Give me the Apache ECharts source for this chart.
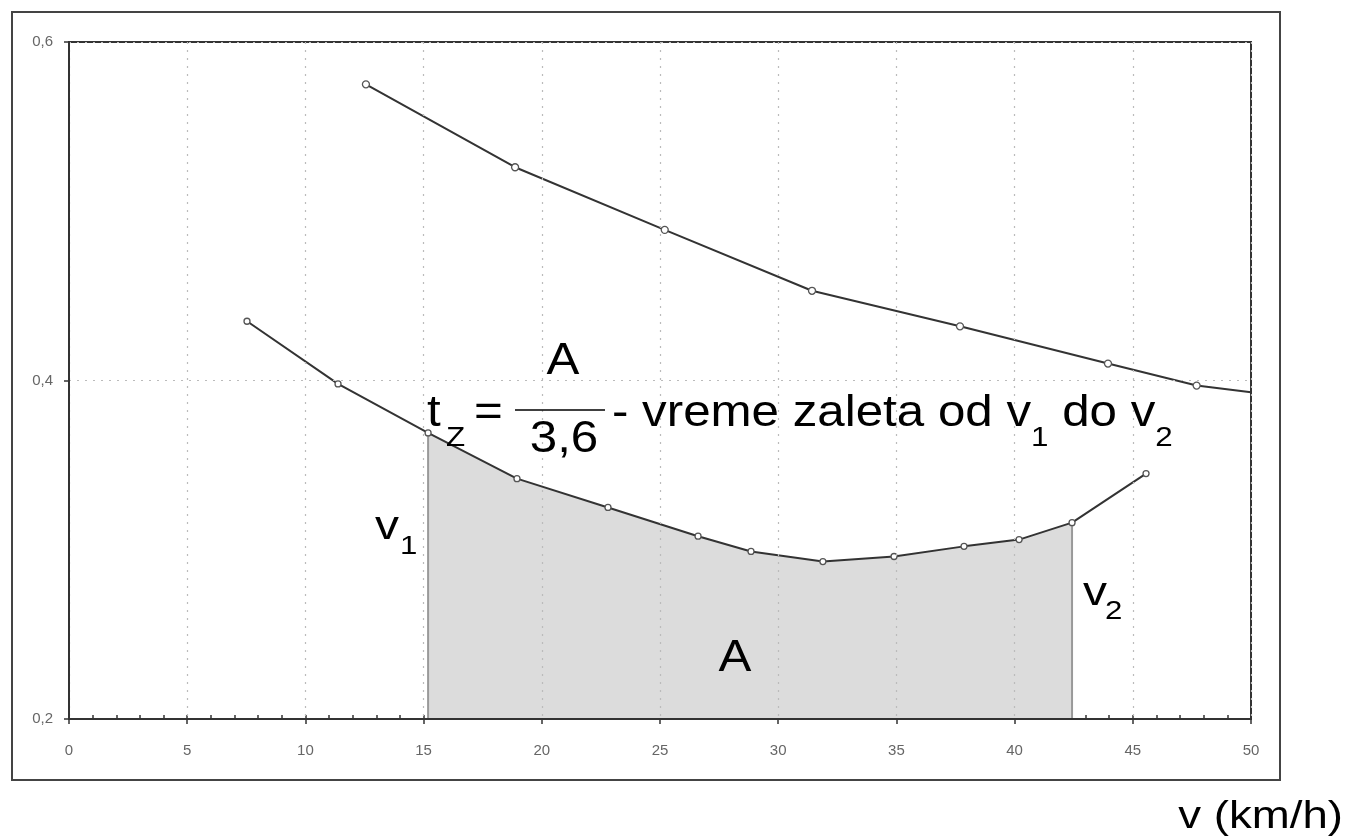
<!DOCTYPE html>
<html><head><meta charset="utf-8">
<script src="https://cdn.jsdelivr.net/npm/echarts@6/dist/echarts.min.js"></script>
<style>html,body{margin:0;padding:0;background:#fff}#c{width:1348px;height:839px}</style>
</head><body><div id="c"></div>
<script>
// Upper curve (v in km/h, value)
const upperX = [12.56, 18.87, 25.2, 31.43, 37.69, 43.95, 47.7, 50];
const upperY = [0.575, 0.526, 0.489, 0.453, 0.432, 0.410, 0.397, 0.393];
// Lower curve
const lowerX = [7.53, 11.38, 15.19, 18.95, 22.80, 26.61, 28.85, 31.89, 34.90, 37.86, 40.19, 42.43, 45.56];
const lowerY = [0.435, 0.398, 0.369, 0.342, 0.325, 0.308, 0.299, 0.293, 0.296, 0.302, 0.306, 0.316, 0.345];
// Integration bounds
const v1 = 15.19, v2 = 42.43;
const yMin = 0.2, yMax = 0.6;

const upperData = upperX.map((x, i) => i === upperX.length - 1 ? { value: [x, upperY[i]], symbol: 'none' } : [x, upperY[i]]);
const lowerData = lowerX.map((x, i) => [x, lowerY[i]]);
const areaData = lowerX.map((x, i) => [x, lowerY[i]]).filter(p => p[0] >= v1 && p[0] <= v2);
const yAt = x => lowerY[lowerX.indexOf(x)];

const F = "'Liberation Sans', Arial, sans-serif";
function txt(t, x, y, size, align, sx) {
  return { type: 'text', x: x, y: y, scaleX: sx || 1.2, z: 100,
    style: { text: t, x: 0, y: 0, font: size + 'px ' + F, fill: '#000', align: align || 'left', verticalAlign: 'middle' } };
}
// sequential text with measured advance (for subscripts)
const mctx = document.createElement('canvas').getContext('2d');
function seq(parts, x0, sx) {
  const out = []; let x = x0;
  parts.forEach(p => {
    out.push(txt(p[0], x, p[2], p[1], 'left', sx));
    mctx.font = p[1] + 'px ' + F;
    x += mctx.measureText(p[0]).width * sx;
  });
  return out;
}
const M = 44, S = 28, SXF = 1.12, YM = 414, YS = 438;

const chart = echarts.init(document.getElementById('c'), null, { renderer: 'canvas' });
chart.setOption({
  animation: false,
  backgroundColor: '#fff',
  grid: { left: 69, right: 97, top: 42, bottom: 120, show: true, borderColor: '#333', borderWidth: 2, backgroundColor: 'transparent' },
  xAxis: [{
    type: 'value', min: 0, max: 50, interval: 5, z: 5,
    axisLine: { show: true, onZero: false, lineStyle: { color: '#333', width: 2 } },
    axisTick: { show: true, length: 5, lineStyle: { color: '#333', width: 1.5 } },
    axisLabel: { color: '#666', fontSize: 15, fontFamily: F, margin: 24 },
    splitLine: { show: true, lineStyle: { color: '#bbb', type: [2, 6], width: 1.2 } }
  }, {
    type: 'value', min: 0, max: 50, interval: 1, position: 'bottom', z: 0,
    axisLine: { show: false },
    axisTick: { show: true, inside: true, length: 4, lineStyle: { color: '#333', width: 1.5 } },
    axisLabel: { show: false },
    splitLine: { show: false }
  }],
  yAxis: {
    type: 'value', min: yMin, max: yMax, interval: 0.2, z: 5,
    axisLine: { show: true, lineStyle: { color: '#333', width: 2 } },
    axisTick: { show: true, length: 5, lineStyle: { color: '#333', width: 1.5 } },
    axisLabel: { color: '#666', fontSize: 15, fontFamily: F, margin: 16, formatter: v => v.toFixed(1).replace('.', ',') },
    splitLine: { show: true, lineStyle: { color: '#bbb', type: [2, 6], width: 1.2 } }
  },
  series: [
    { type: 'line', data: areaData, symbol: 'none', lineStyle: { width: 0 }, z: 1,
      areaStyle: { color: '#dcdcdc', opacity: 1, origin: 'start' } },
    { type: 'line', data: [[v1, yMin], [v1, yAt(v1)]], symbol: 'none', z: 2, lineStyle: { color: '#999', width: 2 } },
    { type: 'line', data: [[v2, yMin], [v2, yAt(v2)]], symbol: 'none', z: 2, lineStyle: { color: '#999', width: 2 } },
    { type: 'line', data: upperData, z: 3, symbol: 'circle', symbolSize: 7, showAllSymbol: true,
      lineStyle: { color: '#333', width: 2 }, itemStyle: { color: '#fff', borderColor: '#555', borderWidth: 1.3 } },
    { type: 'line', data: lowerData, z: 3, symbol: 'circle', symbolSize: 6, showAllSymbol: true,
      lineStyle: { color: '#333', width: 2 }, itemStyle: { color: '#fff', borderColor: '#555', borderWidth: 1.3 } }
  ],
  graphic: [
    { type: 'rect', shape: { x: 12, y: 12, width: 1268, height: 768 }, style: { fill: 'none', stroke: '#444', lineWidth: 2 }, z: 100 },
    txt('t', 427, YM, M, 'left', SXF),
    txt('Z', 446, YS, S, 'left', SXF),
    txt('=', 474, YM, M, 'left', SXF),
    { type: 'line', shape: { x1: 515, y1: 410, x2: 605, y2: 410 }, style: { stroke: '#000', lineWidth: 1.5 }, z: 100 },
    txt('A', 563, 362, M, 'center', SXF),
    txt('3,6', 564, 440, M, 'center', SXF),
    ...seq([['- vreme zaleta od v', M, YM], ['1', S, YS], [' do v', M, YM], ['2', S, YS]], 612, SXF),
    txt('v', 375, 528, 40),
    txt('1', 400, 547, 26),
    txt('v', 1083, 594, 40),
    txt('2', 1105, 612, 26),
    txt('A', 735, 659, 44, 'center', 1.12),
    txt('v (km/h)', 1343, 818, 38, 'right')
  ]
});
</script>
</body></html>
